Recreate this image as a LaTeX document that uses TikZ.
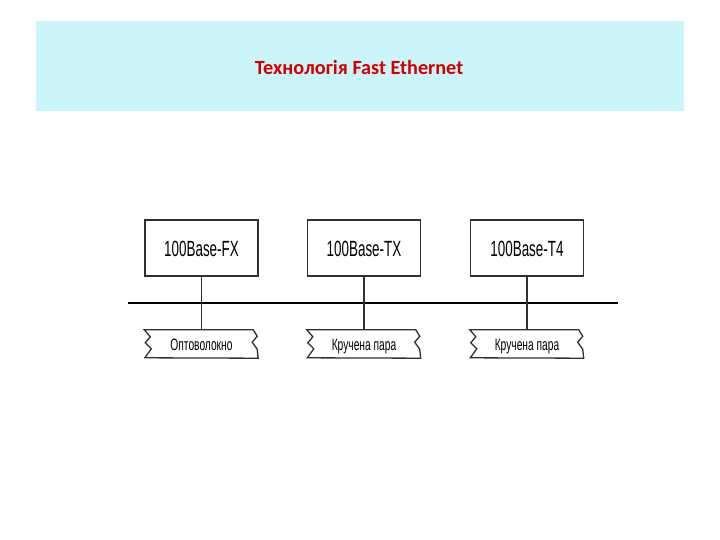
\documentclass[tikz,border=0pt]{standalone}
\usepackage{fontspec}
\setmainfont{Liberation Sans}
\newfontfamily\titlefont{Carlito}
\definecolor{bandcyan}{HTML}{CCF5F9}
\definecolor{titlered}{HTML}{D00000}
\definecolor{linegray}{HTML}{303030}
\begin{document}
\begin{tikzpicture}[x=1pt,y=-1pt,
  stdbox/.style={draw=linegray,line width=1.4pt,minimum width=113pt,minimum height=56pt,inner sep=0pt,
    font=\fontsize{22}{26}\selectfont,text height=16pt,text depth=0pt},
  cable/.style={minimum width=113pt,minimum height=28pt,inner sep=0pt,
    font=\fontsize{16.5}{20}\selectfont,text height=12pt,text depth=0pt},
  wire/.style={draw=linegray,line width=1.3pt},
  bus/.style={draw=black,line width=1.8pt}]
\useasboundingbox (0,0) rectangle (720,540);
\fill[bandcyan] (36,21) rectangle (684,111);
\node[font=\titlefont\bfseries\fontsize{20.2}{24}\selectfont,text=titlered] (title) at (359,67) {Технологія Fast Ethernet};

\node[stdbox] (fx) at (201.5,248) {\scalebox{0.61}[1]{100Base-FX}};
\node[stdbox] (tx) at (364,248) {\scalebox{0.61}[1]{100Base-TX}};
\node[stdbox] (t4) at (527,248) {\scalebox{0.61}[1]{100Base-T4}};

\node[cable] (c1) at (201.5,344) {\scalebox{0.62}[1]{Оптоволокно}};
\node[cable] (c2) at (364,344) {\scalebox{0.62}[1]{Кручена пара}};
\node[cable] (c3) at (527,344) {\scalebox{0.62}[1]{Кручена пара}};

\foreach \c in {c1,c2,c3}{
  \draw[wire,line join=miter]
    ([xshift=-5pt]\c.north east) -- ([xshift=-0.5pt]\c.north west)
    -- ++(6,7) -- ++(-5,6) -- ++(6,6) -- ++(-6.5,9)
    -- (\c.south east)
    -- ++(-1,-9) -- ++(-5,-7) -- ++(5,-6) -- cycle;
}

\coordinate (busL) at (128,303);
\coordinate (busR) at (618,303);
\draw[bus] (busL) -- (busR);

\draw[wire] (fx.south) -- (c1.north);
\draw[wire] (tx.south) -- (c2.north);
\draw[wire] (t4.south) -- (c3.north);
\end{tikzpicture}
\end{document}
